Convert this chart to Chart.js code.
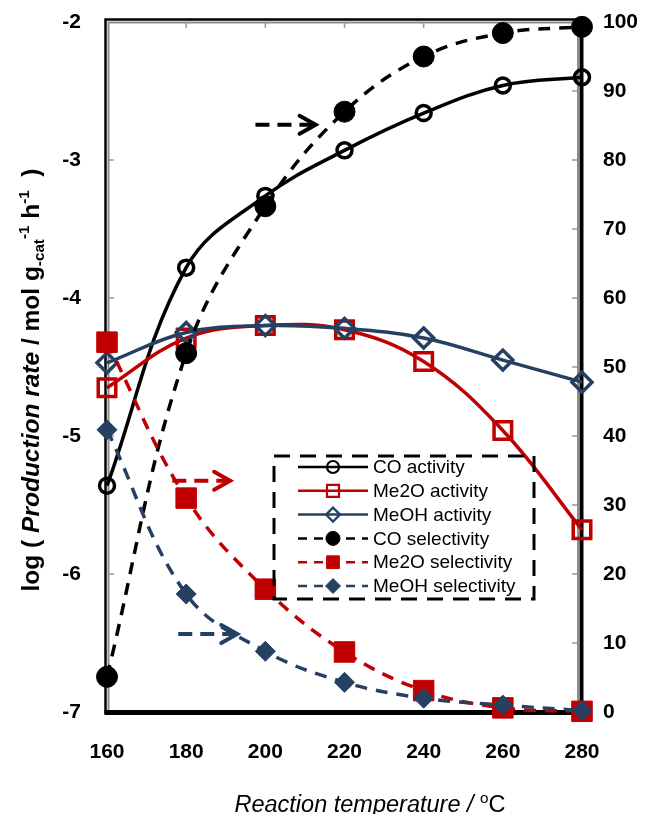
<!DOCTYPE html>
<html>
<head>
<meta charset="utf-8">
<script src="https://cdn.jsdelivr.net/npm/chart.js@4/dist/chart.umd.min.js"></script>
<style>
  html, body { margin: 0; padding: 0; background: #fff; }
  canvas { display: block; }
</style>
</head>
<body>
<canvas id="chart" width="645" height="814" style="width:645px;height:814px"></canvas>
<script>
// reaction temperature (oC)
const temps = [160, 180, 200, 220, 240, 260, 280];

// log production rate (left axis)
const coActivity   = [-5.36, -3.78, -3.26, -2.93, -2.66, -2.46, -2.40];
const me2oActivity = [-4.65, -4.29, -4.20, -4.23, -4.46, -4.96, -5.68];
const meohActivity = [-4.47, -4.25, -4.20, -4.22, -4.29, -4.45, -4.61];

// selectivity % (right axis)
const coSelectivity   = [5.1, 52.0, 73.3, 87.0, 95.0, 98.4, 99.3];
const me2oSelectivity = [53.6, 31.0, 17.8, 8.7, 3.1, 0.6, 0.1];
const meohSelectivity = [40.9, 17.1, 8.8, 4.3, 2.0, 1.0, 0.2];

const seriesNames = ["CO activity", "Me2O activity", "MeOH activity",
                     "CO selectivity", "Me2O selectivity", "MeOH selectivity"];

// dashed arrows pointing to the selectivity axis (temp, %)
const arrowNotes = [
  { x0: 197.5, x1: 212.7, y: 85.1, color: "#000000" },
  { x0: 176.5, x1: 191.1, y: 33.5, color: "#C00000" },
  { x0: 178.0, x1: 192.9, y: 11.3, color: "#254061" }
];

const BLACK = "#000000";
const RED = "#C00000";
const BLUE = "#254061";
const FONT = "Arial, 'Liberation Sans', sans-serif";

function toPoints(values) {
  return temps.map((t, i) => ({ x: t, y: values[i] }));
}

function series(label, values, axis, color, dashed, style, radius, filled, order) {
  return {
    label: label,
    data: toPoints(values),
    yAxisID: axis,
    borderColor: color,
    borderWidth: 3.5,
    borderDash: dashed ? [12, 9] : [],
    tension: 0.38,
    pointStyle: style,
    pointRadius: radius,
    pointBorderWidth: filled ? 1 : 3.5,
    pointBorderColor: color,
    pointBackgroundColor: filled ? color : "rgba(0,0,0,0)",
    fill: false,
    clip: 30,
    order: order
  };
}

const datasets = [
  series(seriesNames[0], coActivity, "y", BLACK, false, "circle", 7.5, false, 5),
  series(seriesNames[1], me2oActivity, "y", RED, false, "rect", 12.4, false, 4),
  series(seriesNames[2], meohActivity, "y", BLUE, false, "rectRot", 10, false, 3),
  series(seriesNames[3], coSelectivity, "y1", BLACK, true, "circle", 10.5, true, 2),
  series(seriesNames[4], me2oSelectivity, "y1", RED, true, "rect", 14.5, true, 1),
  series(seriesNames[5], meohSelectivity, "y1", BLUE, true, "rectRot", 10, true, 0)
];

// text made of parts (italic / sub / sup), centered on 0
function drawRich(ctx, parts, size) {
  let total = 0;
  parts.forEach(p => {
    ctx.font = p.style + " " + (size * (p.scale || 1)) + "px " + FONT;
    p.w = ctx.measureText(p.text).width;
    total += p.w;
  });
  let x = -total / 2;
  parts.forEach(p => {
    ctx.font = p.style + " " + (size * (p.scale || 1)) + "px " + FONT;
    ctx.fillText(p.text, x, (p.dy || 0) * size);
    x += p.w;
  });
}

const framePlugin = {
  id: "frame",
  beforeDatasetsDraw(chart) {
    const ctx = chart.ctx;
    const a = chart.chartArea;
    ctx.save();
    // inner grey lines
    ctx.strokeStyle = "#8c8c8c";
    ctx.lineWidth = 2;
    ctx.beginPath();
    ctx.moveTo(a.left + 1.5, a.bottom);
    ctx.lineTo(a.left + 1.5, a.top + 0.5);
    ctx.lineTo(a.right - 3, a.top + 0.5);
    ctx.moveTo(a.right - 4, a.top);
    ctx.lineTo(a.right - 4, a.bottom);
    ctx.stroke();
    // outer black lines
    ctx.strokeStyle = "#000";
    ctx.lineWidth = 2.5;
    ctx.beginPath();
    ctx.moveTo(a.left - 1.5, a.bottom + 2);
    ctx.lineTo(a.left - 1.5, a.top - 2.5);
    ctx.lineTo(a.right + 1, a.top - 2.5);
    ctx.stroke();
    ctx.lineWidth = 4;
    ctx.beginPath();
    ctx.moveTo(a.right - 0.5, a.top - 3.5);
    ctx.lineTo(a.right - 0.5, a.bottom + 2);
    ctx.stroke();
    ctx.lineWidth = 5;
    ctx.beginPath();
    ctx.moveTo(a.left - 2.5, a.bottom + 0.5);
    ctx.lineTo(a.right + 1.5, a.bottom + 0.5);
    ctx.stroke();

    // inward tick marks
    ctx.strokeStyle = "#999";
    ctx.lineWidth = 1.5;
    ctx.beginPath();
    const xs = chart.scales.x, yl = chart.scales.y, yr = chart.scales.y1;
    xs.ticks.forEach(t => {
      const px = xs.getPixelForValue(t.value);
      if (px > a.left + 3 && px < a.right - 5) {
        ctx.moveTo(px, a.top);
        ctx.lineTo(px, a.top + 6);
      }
    });
    yl.ticks.forEach(t => {
      const py = yl.getPixelForValue(t.value);
      if (py > a.top + 3 && py < a.bottom - 3) {
        ctx.moveTo(a.left + 2, py);
        ctx.lineTo(a.left + 7, py);
      }
    });
    yr.ticks.forEach(t => {
      const py = yr.getPixelForValue(t.value);
      if (py > a.top + 3 && py < a.bottom - 3) {
        ctx.moveTo(a.right - 5, py);
        ctx.lineTo(a.right - 10, py);
      }
    });
    ctx.stroke();
    ctx.restore();
  },
  afterDatasetsDraw(chart) {
    const ctx = chart.ctx;
    const a = chart.chartArea;
    const xs = chart.scales.x, yr = chart.scales.y1;
    ctx.save();

    // arrows
    arrowNotes.forEach(n => {
      const x0 = xs.getPixelForValue(n.x0);
      const x1 = xs.getPixelForValue(n.x1);
      const y = yr.getPixelForValue(n.y);
      ctx.strokeStyle = n.color;
      ctx.lineWidth = 4;
      ctx.setLineDash([14, 8]);
      ctx.beginPath();
      ctx.moveTo(x0, y);
      ctx.lineTo(x1 - 3, y);
      ctx.stroke();
      ctx.setLineDash([]);
      ctx.lineCap = "round";
      ctx.beginPath();
      ctx.moveTo(x1 - 16, y - 9);
      ctx.lineTo(x1, y);
      ctx.lineTo(x1 - 16, y + 9);
      ctx.stroke();
      ctx.lineCap = "butt";
    });

    // legend
    const bx = a.left + 167, by = a.top + 434, bw = 260, bh = 143;
    ctx.strokeStyle = "#000";
    ctx.lineWidth = 3;
    ctx.setLineDash([16, 10]);
    ctx.strokeRect(bx, by, bw, bh);
    ctx.setLineDash([]);
    const legendRadius = [6, 8.5, 7, 7, 9, 7.5];
    chart.data.datasets.forEach((ds, i) => {
      const y = by + 11 + i * 23.8;
      ctx.strokeStyle = ds.borderColor;
      ctx.lineWidth = 2.5;
      ctx.setLineDash(ds.borderDash.length ? [9, 7] : []);
      ctx.beginPath();
      ctx.moveTo(bx + 24, y);
      ctx.lineTo(bx + 94, y);
      ctx.stroke();
      ctx.setLineDash([]);
      ctx.fillStyle = ds.pointBackgroundColor;
      ctx.strokeStyle = ds.pointBorderColor;
      ctx.lineWidth = ds.pointBorderWidth > 1 ? 2.2 : 1;
      Chart.helpers.drawPoint(ctx, {
        pointStyle: ds.pointStyle,
        radius: legendRadius[i],
        borderWidth: ctx.lineWidth,
        rotation: 0
      }, bx + 59, y);
      ctx.fillStyle = "#000";
      ctx.font = "19px " + FONT;
      ctx.textBaseline = "middle";
      ctx.textAlign = "left";
      ctx.fillText(ds.label, bx + 99, y + 1);
    });

    // axis titles
    ctx.fillStyle = "#000";
    ctx.textBaseline = "alphabetic";
    ctx.textAlign = "left";
    ctx.save();
    ctx.translate(370, 812);
    drawRich(ctx, [
      { text: "Reaction temperature / ", style: "italic" },
      { text: "o", style: "normal", scale: 0.65, dy: -0.38 },
      { text: "C", style: "normal" }
    ], 23.5);
    ctx.restore();

    ctx.save();
    ctx.translate(39, 380);
    ctx.rotate(-Math.PI / 2);
    drawRich(ctx, [
      { text: "log ( ", style: "bold" },
      { text: "Production rate", style: "italic bold" },
      { text: " / mol g", style: "bold" },
      { text: "-cat", style: "bold", scale: 0.62, dy: 0.22 },
      { text: "-1", style: "bold", scale: 0.62, dy: -0.42 },
      { text: " h", style: "bold" },
      { text: "-1", style: "bold", scale: 0.62, dy: -0.42 },
      { text: "  )", style: "bold" }
    ], 24.5);
    ctx.restore();

    ctx.restore();
  }
};

const tickFont = { family: FONT, size: 21, weight: "bold" };

function noVerticalPadding(scale) {
  scale.paddingTop = 0;
  scale.paddingBottom = 0;
}

new Chart(document.getElementById("chart"), {
  type: "line",
  data: { datasets: datasets },
  options: {
    responsive: false,
    animation: false,
    devicePixelRatio: 1,
    layout: { padding: { top: 22, left: 0, right: 0, bottom: 0 } },
    plugins: {
      legend: { display: false },
      tooltip: { enabled: false }
    },
    scales: {
      x: {
        type: "linear",
        min: 160,
        max: 280,
        ticks: { stepSize: 20, color: "#000", font: tickFont, padding: 28, maxRotation: 0 },
        grid: { display: false, drawTicks: false },
        border: { display: false },
        afterFit(scale) { scale.height = 102; scale.paddingLeft = 0; scale.paddingRight = 0; }
      },
      y: {
        position: "left",
        min: -7,
        max: -2,
        ticks: { stepSize: 1, color: "#000", font: tickFont, padding: 26 },
        grid: { display: false, drawTicks: false },
        border: { display: false },
        afterFit(scale) { scale.width = 107; noVerticalPadding(scale); }
      },
      y1: {
        position: "right",
        min: 0,
        max: 100,
        ticks: { stepSize: 10, color: "#000", font: tickFont, padding: 21 },
        grid: { display: false, drawTicks: false },
        border: { display: false },
        afterFit(scale) { scale.width = 63; noVerticalPadding(scale); }
      }
    }
  },
  plugins: [framePlugin]
});
</script>
</body>
</html>
